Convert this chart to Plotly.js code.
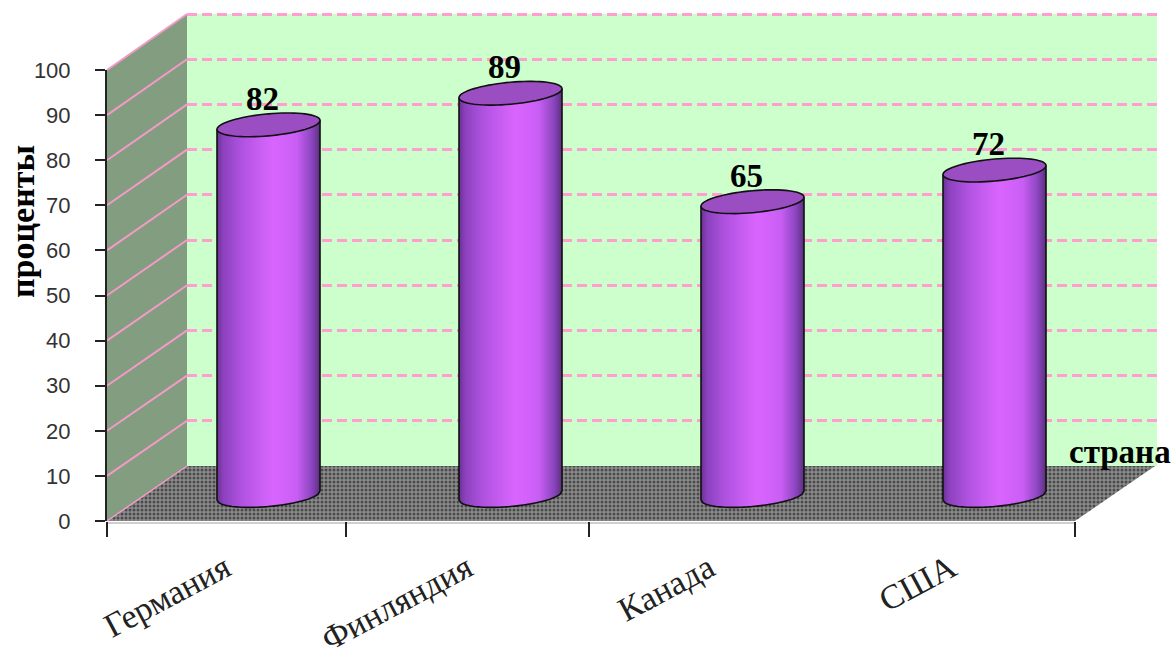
<!DOCTYPE html>
<html><head><meta charset="utf-8">
<script src="https://cdn.plot.ly/plotly-3.0.1.min.js"></script>
<style>html,body{margin:0;padding:0;background:#fff}</style></head>
<body><div id="chart" style="width:1171px;height:659px"></div>
<script>
const countries = ['Германия','Финляндия','Канада','США'];
const percents = [82,89,65,72];
const yTicks = [0,10,20,30,40,50,60,70,80,90,100];
const xTickStops = [0,0.988,1.99,4];
const axisTitleY = 'проценты';
const axisTitleX = 'страна';

const W=1171,H=659;
const fx=p=>p/W, fy=p=>(H-p)/H;
// layout of the pseudo-3D box, in page pixels
const front={x0:107,x1:1075,y0:521,y1:70}, back={x0:187,x1:1157,xc:1155,y0:466,y1:14}, bars={x0:147.5,x1:1115.5,y0:495.5,y1:43.5};
const unitX=(bars.x1-bars.x0)/4, unitY=(bars.y0-bars.y1)/100, backUnit=(back.y0-back.y1)/100;
const a=51.5/unitX, bPx=11, kPx=4.5/51.5;
const stops=[[0,[105,50,145]],[.06,[140,66,190]],[.25,[178,84,226]],[.55,[218,102,255]],[.78,[200,94,244]],[.93,[135,68,186]],[1,[90,48,125]]];
function shade(t){for(let i=1;i<stops.length;i++){if(t<=stops[i][0]){const s=stops[i-1],e=stops[i],f=(t-s[0])/(e[0]-s[0]);
 return 'rgb('+s[1].map((c,j)=>Math.round(c+(e[1][j]-c)*f)).join(',')+')';}}return 'rgb(90,48,125)';}
const tiltAt=u=>kPx*u*51.5/unitY;          // u in -1..1, data units up
const archAt=u=>bPx*Math.sqrt(Math.max(0,1-u*u))/unitY;
const N=103, sx=[],sbase=[],sh=[],sc=[];
countries.forEach((c,i)=>{
 for(let s=0;s<N;s++){const u=-1+(s+.5)*2/N;
  const bot=tiltAt(u)-archAt(u), top=percents[i]+tiltAt(u);
  sx.push(i+u*a);sbase.push(bot);sh.push(top-bot);sc.push(shade((u+1)/2));}
});
const shapes=[];
countries.forEach((c,i)=>{
 let cap='',body='';
 for(let s=0;s<=72;s++){const th=s/72*2*Math.PI,u=Math.cos(th);
  const y=percents[i]+tiltAt(u)+Math.sin(th)*bPx/unitY;
  cap+=(s?'L':'M')+(i+u*a)+','+y+' ';}
 body='M'+(i-a)+','+(percents[i]+tiltAt(-1))+' ';
 for(let s=0;s<=48;s++){const u=-1+s/24;body+='L'+(i+u*a)+','+(tiltAt(u)-archAt(u))+' ';}
 body+='L'+(i+a)+','+(percents[i]+tiltAt(1));
 shapes.push({type:'path',xref:'x3',yref:'y3',path:body,line:{color:'#111',width:1.6},fillcolor:'rgba(0,0,0,0)'});
 shapes.push({type:'path',xref:'x3',yref:'y3',path:cap+'Z',line:{color:'#111',width:1.6},fillcolor:'#9B4DC2'});
});
const traces=[];
const scene=(x,y,o)=>Object.assign({x,y,xaxis:'x',yaxis:'y',mode:'lines',hoverinfo:'skip',showlegend:false},o);
traces.push(scene([front.x0,back.x0,back.x0,front.x0,front.x0],[front.y0,back.y0,back.y1,front.y1,front.y0],{fill:'toself',fillcolor:'#829D80',line:{width:0}}));
traces.push(scene([back.x0,back.x1,back.x1,back.x0,back.x0],[back.y0,back.y0,back.y1,back.y1,back.y0],{fill:'toself',fillcolor:'#CCFFCC',line:{width:0}}));
traces.push(scene([front.x0,front.x1,back.xc,back.x0,front.x0],[front.y0,front.y0,back.y0,back.y0,front.y0],{fill:'toself',fillcolor:'#808080',
  fillpattern:{shape:'.',bgcolor:'#8c8c8c',fgcolor:'#4a4a4a',size:4,solidity:.45},line:{width:0}}));
yTicks.forEach(v=>{const f=(front.y0-front.y1)/100,b=backUnit;
 traces.push(scene([front.x0,back.x0],[front.y0-f*v,back.y0-b*v],{line:{color:'#F59AC8',width:v===0?1.5:2}}));});
traces.push(scene([front.x0-1,front.x1],[front.y0+2,front.y0+2],{line:{color:'#CFCFCF',width:2}}));
traces.push({x:[0],y:[0],xaxis:'x2',yaxis:'y2',mode:'none',type:'scatter',hoverinfo:'skip',showlegend:false});
traces.push({type:'bar',x:sx,base:sbase,y:sh,width:2/N*a*1.1,marker:{color:sc,line:{width:0}},xaxis:'x3',yaxis:'y3',hoverinfo:'skip',showlegend:false});
traces.push({type:'scatter',mode:'text',x:countries.map((c,i)=>i-0.025),y:percents.map(v=>v+1.5),text:percents.map(String),textposition:'top center',
  textfont:{family:'"Liberation Serif",serif',size:33,color:'#000',weight:700},cliponaxis:false,xaxis:'x3',yaxis:'y3',hoverinfo:'skip',showlegend:false});
traces.push({type:'scatter',mode:'none',x:[0],y:[0],xaxis:'x4',yaxis:'y4',hoverinfo:'skip',showlegend:false});
traces.push({type:'scatter',mode:'none',x:countries,y:percents,xaxis:'x5',yaxis:'y4',hoverinfo:'skip',showlegend:false});

const hidden={visible:false,fixedrange:true};
const layout={width:W,height:H,margin:{l:0,r:0,t:0,b:0},paper_bgcolor:'#fff',plot_bgcolor:'rgba(0,0,0,0)',showlegend:false,barmode:'overlay',
 xaxis:Object.assign({domain:[0,1],range:[0,W]},hidden),
 yaxis:Object.assign({domain:[0,1],range:[H,0]},hidden),
 xaxis2:{domain:[fx(back.x0),fx(back.x1+1)],range:[0,1],anchor:'y2',showgrid:false,showticklabels:false,ticks:'',zeroline:false,showline:false},
 yaxis2:{domain:[fy(back.y0),fy(back.y1-2*backUnit)],range:[0,102],anchor:'x2',tickvals:yTicks.slice(1),showticklabels:false,ticks:'',zeroline:false,showline:false,
   showgrid:true,gridcolor:'#FF9FCF',gridwidth:3,griddash:'10px,5px'},
 xaxis3:{domain:[fx(bars.x0),fx(bars.x1)],range:[-.5,3.5],anchor:'y3',visible:false},
 yaxis3:{domain:[fy(bars.y0+10*unitY),fy(bars.y1)],range:[-10,100],anchor:'x3',visible:false},
 xaxis4:{domain:[fx(front.x0),fx(front.x1)],range:[0,4],anchor:'y4',tickvals:xTickStops,showticklabels:false,ticks:'outside',ticklen:15,tickwidth:2,tickcolor:'#222',showgrid:false,zeroline:false,showline:false},
 yaxis4:{domain:[fy(front.y0),fy(front.y1)],range:[0,100],anchor:'x4',tickvals:yTicks,ticks:'outside',ticklen:10,tickwidth:2,tickcolor:'#222',showgrid:false,zeroline:false,showline:true,linecolor:'#222',linewidth:2,
   tickfont:{family:'"Liberation Sans",Arial,sans-serif',size:22,color:'#333'},ticklabelstandoff:20},
 xaxis5:{overlaying:'x4',domain:[fx(front.x0),fx(front.x1)],type:'category',categoryorder:'array',categoryarray:countries,range:[-.5,3.5],anchor:'y4',side:'bottom',ticks:'',tickangle:-28,showgrid:false,zeroline:false,showline:false,
   tickfont:{family:'"Liberation Serif",serif',size:34,color:'#222'},ticklabelstandoff:20,ticklabelshift:-3},
 shapes,
 annotations:[
  {text:'<b>'+axisTitleY+'</b>',xref:'paper',yref:'paper',x:fx(23),y:fy(222),xanchor:'center',yanchor:'middle',textangle:-90,showarrow:false,font:{family:'"Liberation Serif",serif',size:34,color:'#000'}},
  {text:'<b>'+axisTitleX+'</b>',xref:'paper',yref:'paper',x:1,xanchor:'right',xshift:2,y:fy(452),yanchor:'middle',showarrow:false,font:{family:'"Liberation Serif",serif',size:33,color:'#000'}}
 ]};
Plotly.newPlot('chart',traces,layout,{displayModeBar:false,staticPlot:true});
</script></body></html>
